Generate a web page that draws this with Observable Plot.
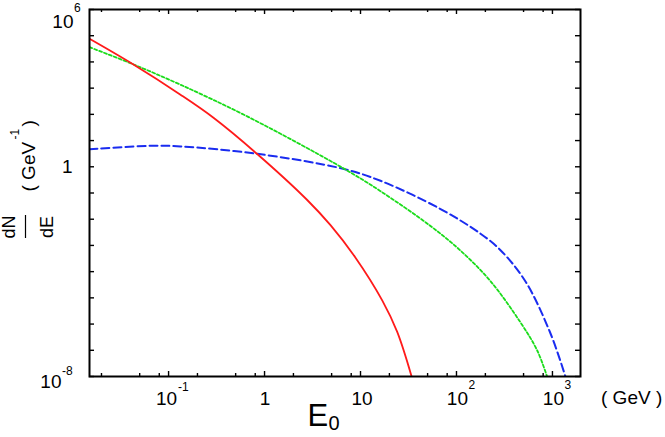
<!DOCTYPE html>
<html><head><meta charset="utf-8">
<script src="https://cdn.jsdelivr.net/npm/d3@7"></script>
<script src="https://cdn.jsdelivr.net/npm/@observablehq/plot@0.6"></script>
<style>html,body{margin:0;padding:0;background:#fff} svg{display:block}</style>
</head><body><div id="chart"></div>
<script>
// ---- data (E0 in GeV, dN/dE in GeV^-1) ----
const redE   = [0.0150, 0.0418, 0.1331, 0.296, 0.8385, 2.783, 4.867, 8.87, 16.83, 24.12, 34.2];
const redY   = [7.62e4, 8.49e3, 562, 72.6, 3.08, 0.0541, 5.92e-3, 3.40e-4, 8.00e-6, 5.02e-7, 9.5e-9];
const greenE = [0.0150, 0.0418, 0.1331, 0.6597, 6.572, 16.16, 53.6, 110.1, 226.2, 464.7, 693.6, 881.7];
const greenY = [3.65e4, 8.41e3, 1352, 83.6, 0.891, 0.1172, 5.51e-3, 6.35e-4, 4.32e-5, 1.15e-6, 9.82e-8, 9.7e-9];
const blueE  = [0.0150, 0.0648, 0.1331, 0.8385, 6.572, 16.16, 68.2, 178.0, 287.5, 523.9, 954.4, 1368];
const blueY  = [4.69, 6.31, 6.00, 3.13, 0.838, 0.292, 0.0245, 2.80e-3, 6.58e-4, 4.21e-5, 4.37e-7, 9.7e-9];

const xDomain = [0.015, 1960];
const yDomain = [1e-8, 1e6];
const xMajorTicks = [0.1, 1, 10, 100, 1000];
const xMinorTicks = [0.02, 0.05, 0.08, 0.2, 0.5, 0.8, 2, 5, 8, 20, 50, 80, 200, 500, 800];
const yTicks = [1e-8, 1e-7, 1e-6, 1e-5, 1e-4, 1e-3, 1e-2, 1e-1, 1, 1e1, 1e2, 1e3, 1e4, 1e5, 1e6];

// tick labels: value, base text, exponent text
const xTickValues = [0.1, 1, 10, 100, 1000];
const xTickBase   = ["10", "1", "10", "10", "10"];
const xTickExp    = ["-1", "", "", "2", "3"];
const yTickValues = [1e6, 1, 1e-8];
const yTickBase   = ["10", "1", "10"];
const yTickExp    = ["6", "", "-8"];

const xTitle = ["E", "0"];
const xUnit = "( GeV )";
const yTitleNum = "dN", yTitleDen = "dE";
const yUnit = ["( GeV", "-1", ")"];

// ---- build ----
const W = 665, H = 437, mL = 89, mR = 85, mT = 9, mB = 61;
const innerW = W - mL - mR, innerH = H - mT - mB;
const font = "'Liberation Sans', Arial, Helvetica, sans-serif";
const toRows = (E, Y) => E.map((e, i) => ({E: e, v: Y[i]}));
const red = toRows(redE, redY), green = toRows(greenE, greenY), blue = toRows(blueE, blueY);
const xt = xTickValues.map((v, i) => ({v, base: xTickBase[i], exp: xTickExp[i]}));
const yt = yTickValues.map((v, i) => ({v, base: yTickBase[i], exp: yTickExp[i]}));

const T = (data, o) => Plot.text(data, {fontFamily: font, fill: "black", lineAnchor: "middle", ...o});

const marks = [
  Plot.line(blue, {x: "E", y: "v", stroke: "#1a2cf0", strokeWidth: 2, strokeDasharray: "8,4", curve: "catmull-rom", clip: true}),
  Plot.line(green, {x: "E", y: "v", stroke: "#1bdc1b", strokeWidth: 1.8, strokeDasharray: "3,2.2", curve: "catmull-rom", clip: true}),
  Plot.line(red, {x: "E", y: "v", stroke: "#ff1a1a", strokeWidth: 1.8, curve: "catmull-rom", clip: true}),
  // inward ticks
  Plot.tickX(xMajorTicks, {x: d => d, insetTop: innerH - 5, strokeWidth: 1.4}),
  Plot.tickX(xMajorTicks, {x: d => d, insetBottom: innerH - 5, strokeWidth: 1.4}),
  Plot.tickX(xMinorTicks, {x: d => d, insetTop: innerH - 3, strokeWidth: 1.4}),
  Plot.tickX(xMinorTicks, {x: d => d, insetBottom: innerH - 3, strokeWidth: 1.4}),
  Plot.tickY(yTicks, {y: d => d, insetRight: innerW - 5, strokeWidth: 1.4}),
  Plot.tickY(yTicks, {y: d => d, insetLeft: innerW - 5, strokeWidth: 1.4}),
  Plot.frame({stroke: "black", strokeWidth: 2}),
  // y tick labels
  T([yt[0]], {y: "v", frameAnchor: "left", text: "base", textAnchor: "end", dx: -16, dy: 12, fontSize: 19}),
  T([yt[0]], {y: "v", frameAnchor: "left", text: "exp", textAnchor: "start", dx: -15.5, dy: -1, fontSize: 12}),
  T([yt[1]], {y: "v", frameAnchor: "left", text: "base", textAnchor: "end", dx: -17, dy: 0, fontSize: 19}),
  T([yt[2]], {y: "v", frameAnchor: "left", text: "base", textAnchor: "end", dx: -28, dy: 5, fontSize: 19}),
  T([yt[2]], {y: "v", frameAnchor: "left", text: "exp", textAnchor: "start", dx: -27.5, dy: -5, fontSize: 12}),
  // x tick labels
  T([xt[0]], {x: "v", frameAnchor: "bottom", text: "base", textAnchor: "end", dx: 8.5, dy: 22, fontSize: 19}),
  T([xt[0]], {x: "v", frameAnchor: "bottom", text: "exp", textAnchor: "start", dx: 9.5, dy: 11, fontSize: 12}),
  T([xt[1]], {x: "v", frameAnchor: "bottom", text: "base", textAnchor: "middle", dx: 0.5, dy: 22, fontSize: 19}),
  T([xt[2]], {x: "v", frameAnchor: "bottom", text: "base", textAnchor: "middle", dx: 1.5, dy: 22, fontSize: 19}),
  T(xt.slice(3), {x: "v", frameAnchor: "bottom", text: "base", textAnchor: "end", dx: 11.5, dy: 22, fontSize: 19}),
  T(xt.slice(3), {x: "v", frameAnchor: "bottom", text: "exp", textAnchor: "start", dx: 12, dy: 9, fontSize: 12}),
  // x title and unit
  T([xTitle[0]], {frameAnchor: "bottom", text: d => d, textAnchor: "start", dx: -27.5, dy: 40, fontSize: 31}),
  T([xTitle[1]], {frameAnchor: "bottom", text: d => d, textAnchor: "start", dx: -6.5, dy: 47.5, fontSize: 20}),
  T([xUnit], {frameAnchor: "bottom-right", text: d => d, textAnchor: "start", dx: 20.5, dy: 21, fontSize: 19}),
  // y title (rotated)
  T([yTitleNum], {frameAnchor: "left", text: d => d, rotate: -90, textAnchor: "middle", dx: -80.5, dy: 34, fontSize: 18}),
  T([yTitleDen], {frameAnchor: "left", text: d => d, rotate: -90, textAnchor: "middle", dx: -42.5, dy: 34, fontSize: 18}),
  T([yUnit[0]], {frameAnchor: "left", text: d => d, rotate: -90, textAnchor: "start", dx: -61, dy: -1.5, fontSize: 19}),
  T([yUnit[1]], {frameAnchor: "left", text: d => d, rotate: -90, textAnchor: "start", dx: -74.5, dy: -53.5, fontSize: 12}),
  T([yUnit[2]], {frameAnchor: "left", text: d => d, rotate: -90, textAnchor: "start", dx: -61, dy: -66.5, fontSize: 19})
];

const chart = Plot.plot({
  width: W, height: H,
  marginLeft: mL, marginRight: mR, marginTop: mT, marginBottom: mB,
  style: {background: "#fff", fontFamily: font, overflow: "visible"},
  x: {type: "log", domain: xDomain, axis: null},
  y: {type: "log", domain: yDomain, axis: null},
  marks
});
document.getElementById("chart").appendChild(chart);

// fraction bar of dN/dE
d3.select(chart).append("line")
  .attr("x1", 25.5).attr("x2", 25.5).attr("y1", 215).attr("y2", 238)
  .attr("stroke", "black").attr("stroke-width", 1.2);
</script>
</body></html>
